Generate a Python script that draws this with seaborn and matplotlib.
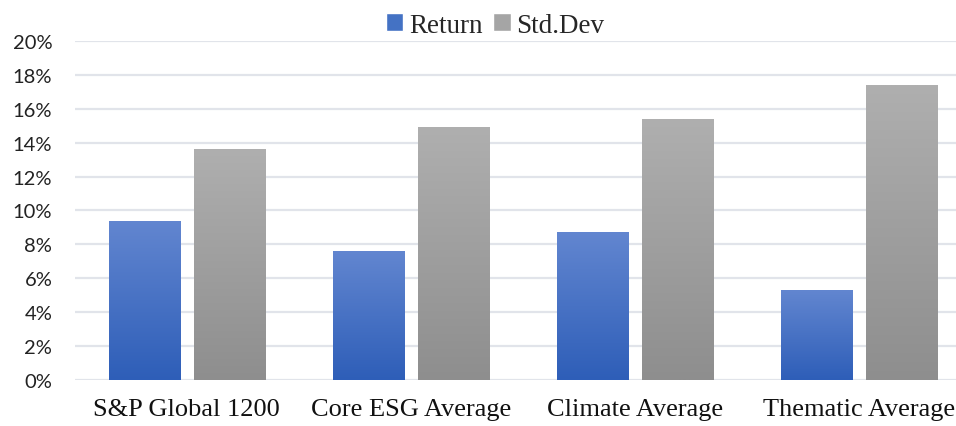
import numpy as np
import pandas as pd
import matplotlib
matplotlib.use('Agg')
import matplotlib.pyplot as plt
import seaborn as sns
from matplotlib.colors import LinearSegmentedColormap
from matplotlib.ticker import PercentFormatter

# chart data
categories = ['S&P Global 1200', 'Core ESG Average', 'Climate Average', 'Thematic Average']
returns = [9.4, 7.6, 8.7, 5.3]
std_devs = [13.6, 14.9, 15.4, 17.4]
series = ['Return', 'Std.Dev']

df = pd.DataFrame({
    'category': categories * 2,
    'series': [series[0]] * 4 + [series[1]] * 4,
    'value': [v / 100 for v in returns + std_devs],
})

sns.set_theme(style='white')
fig, ax = plt.subplots(figsize=(9.56, 4.27), dpi=100)
fig.subplots_adjust(left=0.078, right=1.0, bottom=0.108, top=0.9016)

palette = {'Return': '#4472C4', 'Std.Dev': '#A5A5A5'}
sns.barplot(data=df, x='category', y='value', hue='series', palette=palette,
            width=0.76, gap=0.166, saturation=1, ax=ax, legend=True)

# gradient fills clipped to each bar
grads = {
    'Return': LinearSegmentedColormap.from_list('b', ['#2E5EB8', '#6286D0']),
    'Std.Dev': LinearSegmentedColormap.from_list('g', ['#8E8E8E', '#AFAFAF']),
}
for i, cont in enumerate(ax.containers):
    cmap = grads[series[i]]
    for bar in cont:
        x0, y0 = bar.get_x(), bar.get_y()
        w, h = bar.get_width(), bar.get_height()
        im = ax.imshow(np.linspace(0, 1, 256).reshape(-1, 1), cmap=cmap, aspect='auto',
                       origin='lower', extent=[x0, x0 + w, y0, y0 + h], zorder=3)
        im.set_clip_path(bar)
        bar.set_edgecolor('none')

ax.set_xlim(-0.5, 3.433)
ax.set_ylim(0, 0.20)
ax.set_yticks(np.arange(0, 0.201, 0.02))
ax.yaxis.set_major_formatter(PercentFormatter(1.0, decimals=0))
ax.grid(axis='y', color='#E1E4EA', linewidth=1.6)
ax.set_axisbelow(True)
for s in ax.spines.values():
    s.set_visible(False)
ax.set_xlabel('')
ax.set_ylabel('')
ax.tick_params(axis='y', length=0, pad=16, labelsize=14.5, labelcolor='#222222')
ax.tick_params(axis='x', length=0, pad=13, labelsize=19, labelcolor='#111111')
for t in ax.get_yticklabels():
    t.set_family('Lato')
for t in ax.get_xticklabels():
    t.set_family('Liberation Serif')

handles, labels = ax.get_legend_handles_labels()
ax.legend(handles, labels, loc='upper center', bbox_to_anchor=(0.477, 1.155), ncol=2,
          frameon=False, handlelength=0.65, handleheight=0.65, handletextpad=0.2,
          columnspacing=0.4, prop={'family': 'Liberation Serif', 'size': 19.5})

fig.savefig('out.png', dpi=100)
